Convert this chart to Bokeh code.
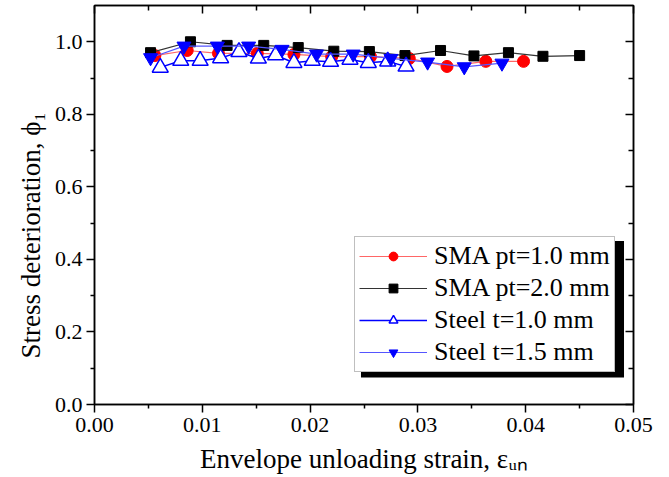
from bokeh.plotting import figure
from bokeh.models import (Range1d, LinearAxis, FixedTicker, PrintfTickFormatter,
                          Legend, LegendItem, BoxAnnotation)
from bokeh.embed import file_html
from bokeh.resources import INLINE

# ---- data ----
sma10_strain = [0.0056, 0.0086, 0.0115, 0.0151, 0.0185, 0.0220, 0.0256, 0.0292, 0.0327, 0.0363, 0.0398]
sma10_phi = [0.962, 0.976, 0.968, 0.968, 0.965, 0.959, 0.959, 0.954, 0.932, 0.946, 0.946]

sma20_strain = [0.0052, 0.0089, 0.0123, 0.0157, 0.0189, 0.0222, 0.0255, 0.0288, 0.0321, 0.0352, 0.0384, 0.0416, 0.0450]
sma20_phi = [0.970, 1.000, 0.990, 0.990, 0.984, 0.974, 0.973, 0.962, 0.976, 0.961, 0.970, 0.960, 0.962]

steel10_strain = [0.0061, 0.0080, 0.0098, 0.0117, 0.0134, 0.0152, 0.0168, 0.0185, 0.0202, 0.0219, 0.0237, 0.0254, 0.0272, 0.0289]
steel10_phi = [0.929, 0.948, 0.948, 0.955, 0.972, 0.954, 0.963, 0.942, 0.948, 0.945, 0.951, 0.942, 0.946, 0.932]

steel15_strain = [0.0052, 0.0083, 0.0114, 0.0143, 0.0174, 0.0206, 0.0240, 0.0275, 0.0309, 0.0343, 0.0378]
steel15_phi = [0.956, 0.988, 0.988, 0.988, 0.979, 0.966, 0.966, 0.954, 0.944, 0.931, 0.941]

labels = ["SMA pt=1.0 mm", "SMA pt=2.0 mm", "Steel t=1.0 mm", "Steel t=1.5 mm"]
x_title = "Envelope unloading strain, \u03b5\u1d64\u2099"
y_title = "Stress deterioration, \u03d5\u2081"

x_ticks = [0.00, 0.01, 0.02, 0.03, 0.04, 0.05]
x_minor = [0.005, 0.015, 0.025, 0.035, 0.045]
y_ticks = [0.0, 0.2, 0.4, 0.6, 0.8, 1.0]
y_minor = [0.1, 0.3, 0.5, 0.7, 0.9]

FONT = "Liberation Serif"

p = figure(width=669, height=477, output_backend="svg", toolbar_location=None,
           x_range=Range1d(0, 0.05), y_range=Range1d(0, 1.1),
           min_border_left=94, min_border_right=36, min_border_top=5, min_border_bottom=73)
p.grid.visible = False
p.outline_line_color = "black"
p.outline_line_width = 1.5
p.background_fill_color = "white"
p.border_fill_color = "white"

def style_axis(ax, ticks, minor, fmt, labels_on=True, inward=False):
    ax.ticker = FixedTicker(ticks=ticks, minor_ticks=minor)
    ax.formatter = PrintfTickFormatter(format=fmt)
    ax.axis_line_width = 1.5
    ax.axis_line_color = "black"
    ax.major_tick_line_width = 1.5
    ax.minor_tick_line_width = 1.5
    ax.major_tick_line_color = "black"
    ax.minor_tick_line_color = "black"
    if inward:
        ax.major_tick_in, ax.major_tick_out = 8, 0
        ax.minor_tick_in, ax.minor_tick_out = 5, 0
    else:
        ax.major_tick_in, ax.major_tick_out = 0, 8
        ax.minor_tick_in, ax.minor_tick_out = 0, 4
    if labels_on:
        ax.major_label_text_font = FONT
        ax.major_label_text_font_size = "22px"
        ax.major_label_text_color = "black"
        ax.axis_label_text_font = FONT
        ax.axis_label_text_font_size = "27px"
        ax.axis_label_text_font_style = "normal"
        ax.axis_label_text_color = "black"
    else:
        ax.major_label_text_font_size = "0px"
        ax.major_label_text_alpha = 0

xa = p.xaxis[0]
style_axis(xa, x_ticks, x_minor, "%.2f")
xa.major_label_standoff = 5
xa.axis_label = x_title
xa.axis_label_standoff = 9

ya = p.yaxis[0]
style_axis(ya, y_ticks, y_minor, "%.1f")
ya.major_label_standoff = 4
ya.axis_label = y_title + "\u00a0" * 9
ya.axis_label_standoff = 6

right = LinearAxis()
style_axis(right, y_ticks, y_minor, "%.1f", labels_on=False, inward=True)
p.add_layout(right, "right")
top = LinearAxis()
style_axis(top, x_ticks, x_minor, "%.2f", labels_on=False, inward=True)
p.add_layout(top, "above")

# ---- series ----
l1 = p.line(sma10_strain, sma10_phi, line_color="#ff6666", line_width=1.2)
s1 = p.scatter(sma10_strain, sma10_phi, marker="circle", size=12, fill_color="#ff0000", line_color="#ff0000")
l2 = p.line(sma20_strain, sma20_phi, line_color="#333333", line_width=1.2)
s2 = p.scatter(sma20_strain, sma20_phi, marker="square", size=10, fill_color="black", line_color="black")
l3 = p.line(steel10_strain, steel10_phi, line_color="#0000ff", line_width=1.5)
s3 = p.scatter(steel10_strain, steel10_phi, marker="triangle", size=16, fill_color="white",
               line_color="#0000ff", line_width=1.5)
l4 = p.line(steel15_strain, steel15_phi, line_color="#5555ff", line_width=1.2)
s4 = p.scatter(steel15_strain, steel15_phi, marker="inverted_triangle", size=14, fill_color="#0000ff",
               line_color="#0000ff")

# legend shadow
shadow = BoxAnnotation(left=0.02472, right=0.04912, top=0.4507, bottom=0.0746,
                       fill_color="black", fill_alpha=1, line_color=None)
p.add_layout(shadow)

legend = Legend(items=[LegendItem(label=labels[0], renderers=[l1, s1]),
                       LegendItem(label=labels[1], renderers=[l2, s2]),
                       LegendItem(label=labels[2], renderers=[l3, s3]),
                       LegendItem(label=labels[3], renderers=[l4, s4])],
                location=(260, 32), margin=0, padding=4, spacing=2,
                glyph_width=68, glyph_height=22, label_height=22, label_standoff=7,
                label_text_font=FONT, label_text_font_size="26px", label_text_color="black",
                border_line_color="#808080", border_line_width=1,
                background_fill_color="white", background_fill_alpha=1)
p.add_layout(legend)

open("out.html", "w").write(file_html(p, INLINE))
